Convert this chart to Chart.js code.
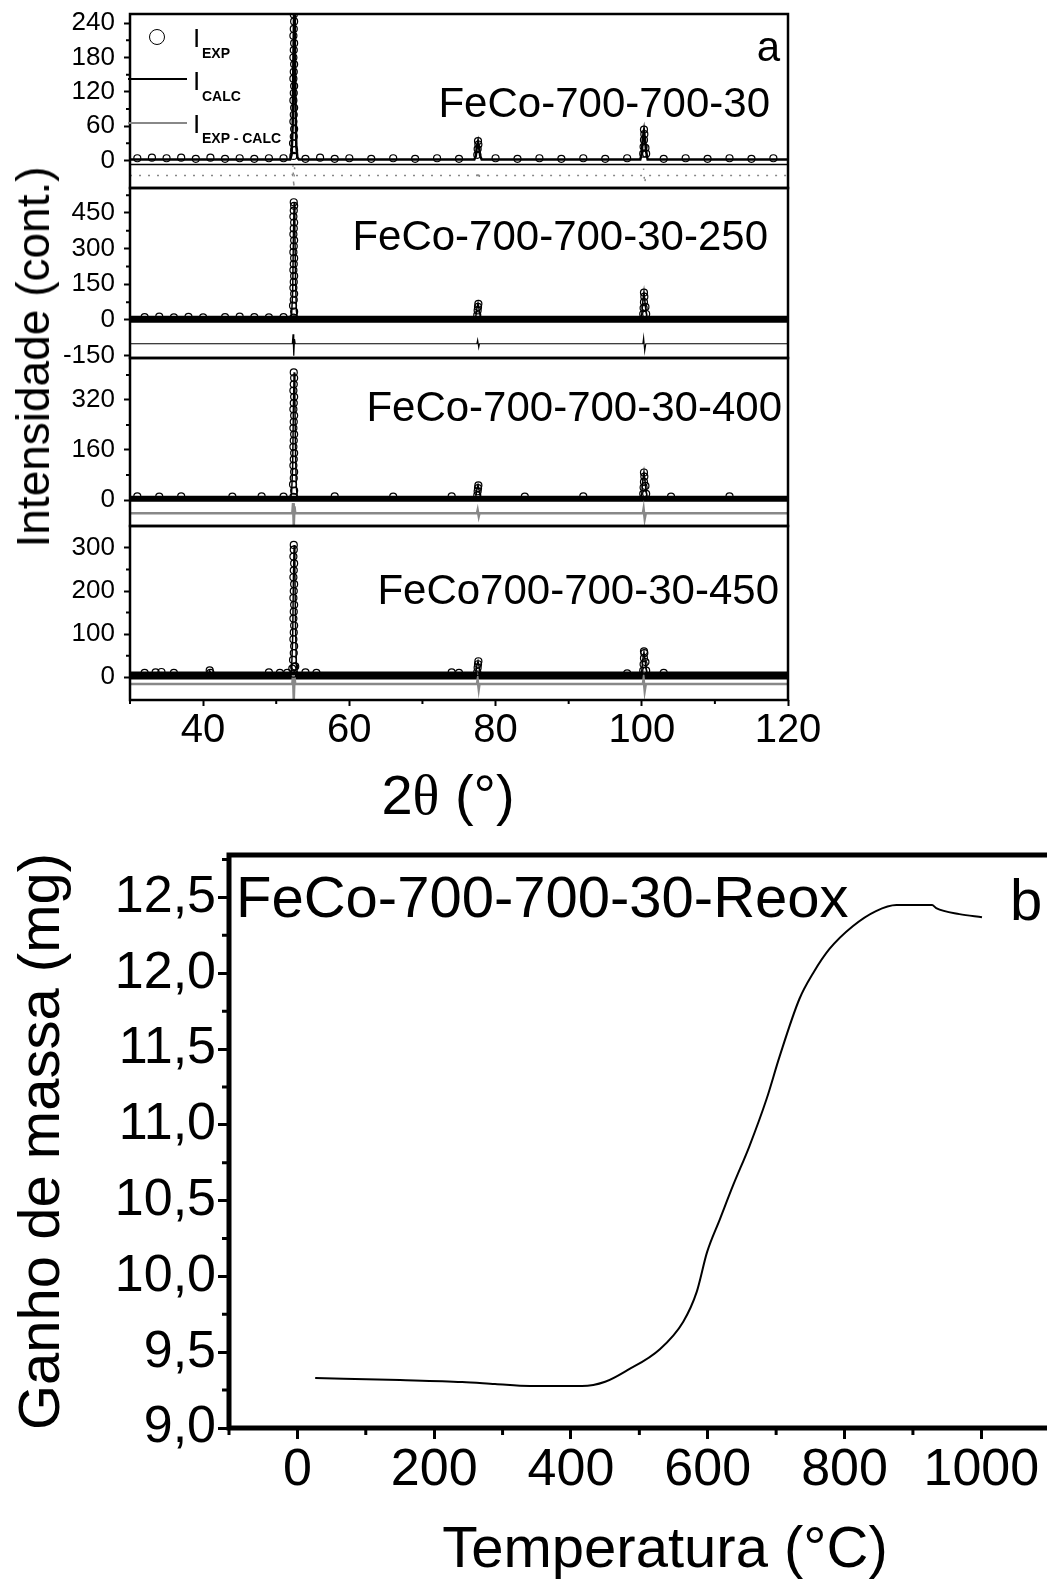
<!DOCTYPE html>
<html>
<head>
<meta charset="utf-8">
<script src="https://cdn.jsdelivr.net/npm/chart.js@4.4.1/dist/chart.umd.min.js"></script>
<style>
  html, body { margin: 0; padding: 0; background: #fff; }
  body { width: 1047px; height: 1592px; position: relative; overflow: hidden;
         font-family: 'Liberation Sans', Arial, sans-serif; color: #000; }
  canvas { position: absolute; left: 0; }
  .txt { position: absolute; white-space: nowrap; line-height: 1; }
  .rt { transform: translate(-100%, -50%); }
  .lt { transform: translate(0, -50%); }
  .sub { position: absolute; white-space: nowrap; line-height: 1; font-size: 14px; font-weight: bold; }
</style>
</head>
<body>
<canvas id="p1" width="840" height="210" style="top:0px"></canvas>
<canvas id="p2" width="840" height="210" style="top:170px"></canvas>
<canvas id="p3" width="840" height="210" style="top:340px"></canvas>
<canvas id="p4" width="840" height="330" style="top:506px"></canvas>
<div style="position:absolute; left:0; top:820px; width:1047px; height:772px; overflow:hidden">
  <canvas id="tga" width="1120" height="772" style="top:0px"></canvas>
</div>

<!-- legenda do painel a -->
<div style="position:absolute; left:149px; top:29px; width:16px; height:16px; border:1.5px solid #000; border-radius:50%; box-sizing:border-box"></div>
<div style="position:absolute; left:128px; top:78px; width:59px; height:1.5px; background:#000"></div>
<div style="position:absolute; left:128px; top:122px; width:59px; height:1.5px; background:#888"></div>
<div class="txt" style="left:193px; top:25px; font-size:26px">I</div>
<div class="sub" style="left:202px; top:46px">EXP</div>
<div class="txt" style="left:193px; top:68px; font-size:26px">I</div>
<div class="sub" style="left:202px; top:89px">CALC</div>
<div class="txt" style="left:193px; top:111px; font-size:26px">I</div>
<div class="sub" style="left:202px; top:131px">EXP - CALC</div>

<div class="txt rt" style="left:780px; top:47px; font-size:42px">a</div>
<div class="txt rt" style="left:770px; top:103px; font-size:42px">FeCo-700-700-30</div>
<div class="txt rt" style="left:768px; top:236px; font-size:42px">FeCo-700-700-30-250</div>
<div class="txt rt" style="left:782px; top:407px; font-size:42px">FeCo-700-700-30-400</div>
<div class="txt rt" style="left:779px; top:590px; font-size:42px">FeCo700-700-30-450</div>

<div class="txt" style="left:33px; top:357px; font-size:46px; transform:translate(-50%,-50%) rotate(-90deg)">Intensidade (cont.)</div>
<div class="txt" style="left:448px; top:795px; font-size:56px; transform:translate(-50%,-50%)">2<span style="font-family:'Liberation Serif', serif">θ</span> (°)</div>

<div class="txt lt" style="left:236px; top:897px; font-size:58px">FeCo-700-700-30-Reox</div>
<div class="txt lt" style="left:1010px; top:900px; font-size:58px">b</div>

<script>
// ---- (a) DRX: 2θ e intensidades ----
const twoTheta = [30, 34.0, 34.3, 34.6, 40.6, 40.9, 41.2, 51.9, 52.1, 52.25, 52.35, 52.45, 52.55, 52.65, 52.75, 52.9, 53.1,
                  55.2, 55.5, 55.8, 77.1, 77.3, 77.45, 77.6, 77.75, 77.9, 78.1, 99.8, 100.0, 100.15, 100.3, 100.45, 100.6, 100.8, 120];

const calc1 = [2, 2, 2, 2, 2, 2, 2, 2, 10, 60, 180, 270, 200, 90, 25, 5, 2, 2, 2, 2, 2, 8, 25, 33, 22, 8, 2, 2, 12, 40, 52, 35, 15, 2, 2];
const calc2 = [3, 3, 3, 3, 3, 3, 3, 3, 20, 120, 350, 495, 380, 160, 40, 8, 3, 3, 3, 3, 3, 15, 50, 70, 45, 15, 3, 3, 25, 80, 118, 70, 30, 3, 3];
const calc3 = [4, 4, 4, 4, 4, 4, 4, 4, 20, 110, 300, 408, 330, 140, 40, 8, 4, 4, 4, 4, 4, 12, 35, 48, 32, 12, 4, 4, 20, 65, 90, 60, 25, 4, 4];
const calc4 = [4, 4, 10, 4, 4, 15, 4, 4, 18, 90, 230, 307, 250, 110, 30, 8, 4, 4, 8, 4, 4, 10, 28, 37, 25, 10, 4, 4, 15, 42, 58, 40, 18, 4, 4];

const exp1 = [
  [52.35,8],[52.45,18],[52.3,30],[52.4,42],[52.45,55],[52.35,68],[52.4,80],[52.45,92],[52.35,105],[52.4,118],[52.45,130],
  [52.35,143],[52.4,155],[52.45,168],[52.35,180],[52.4,193],[52.45,205],[52.35,218],[52.4,230],[52.45,243],[52.4,255],
  [77.5,10],[77.55,20],[77.65,28],[77.6,34],
  [100.2,12],[100.25,24],[100.3,36],[100.35,46],[100.3,54],[100.5,22],[100.6,12],
  [31,4],[33,5],[35,4],[37,5],[39,3],[41,5],[43,3],[45,4],[47,3],[49,4],[51,4],[54,3],[56,5],[58,3],[60,4],[63,3],[66,4],
  [69,3],[72,4],[75,3],[80,4],[83,3],[86,4],[89,3],[92,4],[95,3],[98,4],[103,3],[106,4],[109,3],[112,4],[115,3],[118,4]
];
const exp2 = [
  [52.35,10],[52.45,35],[52.3,60],[52.4,85],[52.45,110],[52.35,135],[52.4,160],[52.45,185],[52.35,210],[52.4,235],[52.45,260],
  [52.35,285],[52.4,310],[52.45,335],[52.35,360],[52.4,385],[52.45,410],[52.35,435],[52.4,460],[52.45,480],[52.4,495],
  [77.5,20],[77.55,40],[77.6,55],[77.65,68],
  [100.2,25],[100.25,50],[100.3,75],[100.35,98],[100.3,115],[100.5,55],[100.6,25],
  [32,12],[34,14],[36,11],[38,13],[40,11],[43,12],[45,14],[47,12],[49,11],[51,12]
];
const exp3 = [
  [52.35,10],[52.45,30],[52.3,50],[52.4,70],[52.45,90],[52.35,110],[52.4,130],[52.45,150],[52.35,170],[52.4,190],[52.45,210],
  [52.35,230],[52.4,250],[52.45,270],[52.35,290],[52.4,310],[52.45,330],[52.35,350],[52.4,370],[52.45,390],[52.4,408],
  [77.5,15],[77.55,28],[77.6,38],[77.65,47],
  [100.2,20],[100.25,40],[100.3,58],[100.35,75],[100.3,88],[100.5,45],[100.6,20],
  [31,12],[34,11],[37,12],[44,11],[48,12],[51,11],[58,12],[66,11],[74,12],[84,11],[92,12],[104,11],[112,12]
];
const exp4 = [
  [52.35,8],[52.45,24],[52.3,40],[52.4,56],[52.45,72],[52.35,88],[52.4,104],[52.45,120],[52.35,136],[52.4,152],[52.45,168],
  [52.35,184],[52.4,200],[52.45,216],[52.35,232],[52.4,248],[52.45,264],[52.35,280],[52.4,296],[52.4,307],[52.2,20],[52.6,25],
  [77.5,12],[77.55,22],[77.6,30],[77.65,37],
  [100.2,15],[100.25,30],[100.3,44],[100.35,56],[100.3,60],[100.5,35],[100.6,15],
  [34.3,12],[40.9,16],[41.0,10],[55.5,10],
  [32,10],[33.5,11],[36,10],[49,11],[50.5,10],[51.5,10],[54,11],[74,11],[75,10],[98,9],[103,10]
];

// faixa densa de pontos experimentais na linha de base
const band2 = [[30, 3], [120, 3]];
const band3 = [[30, 4], [120, 4]];
const band4 = [[30, 4], [120, 4]];

// I(exp) - I(calc), deslocado para baixo de cada padrão
const resTheta = [30, 34.3, 40.9, 52.2, 52.3, 52.4, 52.5, 52.6, 55.5, 77.45, 77.55, 77.7, 77.8, 100.15, 100.25, 100.4, 100.55, 120];
const res1 = [-26, -26, -26, -26, -8, -48, -12, -26, -26, -26, -18, -34, -26, -26, -14, -40, -26, -26];
const res2 = [-100, -100, -100, -100, -60, -150, -80, -100, -100, -100, -85, -115, -100, -100, -75, -130, -100, -100];
const res3 = [-42, -42, -42, -42, -10, -83, -20, -42, -42, -42, -32, -52, -42, -42, -28, -60, -42, -42];
const res4 = [-16, -16, -16, -16, 5, -53, 0, -16, -16, -16, -6, -28, -16, -16, -4, -32, -16, -16];
const zeroLine1 = [[30, -7], [120, -7]];

const xTicks = [40, 60, 80, 100, 120];
const xMinor = [30, 50, 70, 90, 110];
const yTicks1 = [0, 60, 120, 180, 240], yMinor1 = [30, 90, 150, 210];
const yTicks2 = [-150, 0, 150, 300, 450], yMinor2 = [75, 225, 375, 525];
const yTicks3 = [0, 160, 320], yMinor3 = [80, 240, 400];
const yTicks4 = [0, 100, 200, 300], yMinor4 = [50, 150, 250];

// ---- (b) TGA ----
const tempC = [26, 150, 241, 289, 340, 416, 450, 482, 530, 564, 584, 599, 618, 637, 661, 686, 705, 734, 754, 778, 812, 846, 876, 928, 934, 968, 1001];
const massMg = [9.33, 9.316, 9.303, 9.29, 9.277, 9.277, 9.305, 9.38, 9.52, 9.70, 9.90, 10.16, 10.38, 10.60, 10.86, 11.17,
                11.45, 11.83, 12.0, 12.16, 12.31, 12.41, 12.45, 12.45, 12.43, 12.39, 12.37];
const tempTicks = [0, 200, 400, 600, 800, 1000];
const tempMinor = [-100, 100, 300, 500, 700, 900, 1100];
const massTicks = [9.0, 9.5, 10.0, 10.5, 11.0, 11.5, 12.0, 12.5];
const massMinor = [9.25, 9.75, 10.25, 10.75, 11.25, 11.75, 12.25, 12.75];

Chart.defaults.font.family = "'Liberation Sans', Arial, sans-serif";
Chart.defaults.color = '#000';

const framePlugin = {
  id: 'frame',
  afterDatasetsDraw(chart, args, opts) {
    const { ctx, chartArea: a } = chart;
    ctx.save();
    ctx.strokeStyle = '#000';
    ctx.lineWidth = opts.width;
    ctx.strokeRect(a.left, a.top, a.right - a.left, a.bottom - a.top);
    ctx.restore();
  }
};

const minorPlugin = {
  id: 'minor',
  afterDraw(chart, args, opts) {
    const { ctx, chartArea: a, scales } = chart;
    ctx.save();
    ctx.strokeStyle = '#000';
    ctx.lineWidth = opts.width;
    ctx.beginPath();
    (opts.x || []).forEach(v => {
      const px = scales.x.getPixelForValue(v);
      ctx.moveTo(px, a.bottom); ctx.lineTo(px, a.bottom + opts.len);
    });
    (opts.y || []).forEach(v => {
      const py = scales.y.getPixelForValue(v);
      ctx.moveTo(a.left - opts.len, py); ctx.lineTo(a.left, py);
    });
    ctx.stroke();
    ctx.restore();
  }
};

function pts(xs, ys) { return xs.map((x, i) => ({ x, y: ys[i] })); }
function pairs(arr) { return arr.map(([x, y]) => ({ x, y })); }

function panel(id, calc, exp, res, min, max, yTicks, yMinor, st) {
  const datasets = [
    { data: pts(twoTheta, calc), showLine: true, pointRadius: 0, borderColor: '#000', borderWidth: st.calcWidth },
    { data: pairs(exp), showLine: false, pointStyle: 'circle', pointRadius: 3.5, borderWidth: 1.2,
      borderColor: '#000', backgroundColor: 'rgba(0,0,0,0)' },
    { data: pts(resTheta, res), showLine: true, pointRadius: 0, borderColor: st.resColor,
      borderWidth: st.resWidth, borderDash: st.resDash || [] }
  ];
  if (st.band) {
    datasets.push({ data: pairs(st.band), showLine: true, pointRadius: 0, borderColor: '#000', borderWidth: st.bandWidth });
  }
  if (st.extra) {
    datasets.push({ data: pairs(st.extra), showLine: true, pointRadius: 0, borderColor: '#000', borderWidth: 1.5 });
  }
  new Chart(document.getElementById(id), {
    type: 'scatter',
    data: { datasets },
    options: {
      responsive: false, animation: false, devicePixelRatio: 1,
      layout: { padding: { left: 0, right: 52, top: st.top, bottom: st.bottom } },
      plugins: { legend: { display: false }, tooltip: { enabled: false },
                 frame: { width: 2.5 }, minor: { x: st.showX ? xMinor : [], y: yMinor, len: 4, width: 2 } },
      scales: {
        x: {
          type: 'linear', min: 30, max: 120, display: !!st.showX,
          afterBuildTicks: s => { s.ticks = xTicks.map(v => ({ value: v })); },
          afterFit: s => { s.height = st.xHeight || 0; s.paddingLeft = 0; s.paddingRight = 0; },
          grid: { drawOnChartArea: false, tickLength: 6, tickWidth: 2, tickColor: '#000' },
          border: { display: false },
          ticks: { font: { size: 40 }, padding: 1, maxRotation: 0, callback: v => String(v) }
        },
        y: {
          min, max,
          afterBuildTicks: s => { s.ticks = yTicks.map(v => ({ value: v })); },
          afterFit: s => { s.width = 130; s.paddingTop = 0; s.paddingBottom = 0; },
          grid: { drawOnChartArea: false, tickLength: 6, tickWidth: 2, tickColor: '#000' },
          border: { display: false },
          ticks: { font: { size: 26 }, padding: 9, callback: v => String(v) }
        }
      }
    },
    plugins: [framePlugin, minorPlugin]
  });
}

panel('p1', calc1, exp1, res1, -48, 256, yTicks1, yMinor1,
      { calcWidth: 2.5, resColor: '#888', resWidth: 1.5, resDash: [2, 7], top: 14, bottom: 22, extra: zeroLine1 });
panel('p2', calc2, exp2, res2, -160, 555, yTicks2, yMinor2,
      { calcWidth: 1.5, resColor: '#000', resWidth: 1.2, top: 18, bottom: 22, band: band2, bandWidth: 7 });
panel('p3', calc3, exp3, res3, -83, 454, yTicks3, yMinor3,
      { calcWidth: 1.5, resColor: '#888', resWidth: 2.5, top: 18, bottom: 24, band: band3, bandWidth: 6 });
panel('p4', calc4, exp4, res4, -53, 351, yTicks4, yMinor4,
      { calcWidth: 1.5, resColor: '#888', resWidth: 2.5, top: 20, bottom: 0, showX: true, xHeight: 136, band: band4, bandWidth: 8 });

// ---- (b) ----
new Chart(document.getElementById('tga'), {
  type: 'scatter',
  data: { datasets: [{ data: pts(tempC, massMg), showLine: true, pointRadius: 0, borderColor: '#000',
                       borderWidth: 2, cubicInterpolationMode: 'monotone' }] },
  options: {
    responsive: false, animation: false, devicePixelRatio: 1,
    layout: { padding: { left: 0, right: 19, top: 35, bottom: 0 } },
    plugins: { legend: { display: false }, tooltip: { enabled: false },
               frame: { width: 5 }, minor: { x: tempMinor, y: massMinor, len: 7, width: 3 } },
    scales: {
      x: {
        type: 'linear', min: -100, max: 1175,
        afterBuildTicks: s => { s.ticks = tempTicks.map(v => ({ value: v })); },
        afterFit: s => { s.height = 164; s.paddingLeft = 0; s.paddingRight = 0; },
        grid: { drawOnChartArea: false, tickLength: 11, tickWidth: 3, tickColor: '#000' },
        border: { display: false },
        ticks: { font: { size: 52 }, padding: 0, maxRotation: 0, callback: v => String(v) },
        title: { display: true, text: 'Temperatura (°C)', font: { size: 58 }, padding: { top: 0, bottom: 6 } }
      },
      y: {
        min: 9.0, max: 12.78,
        afterBuildTicks: s => { s.ticks = massTicks.map(v => ({ value: v })); },
        afterFit: s => { s.width = 229; s.paddingTop = 0; s.paddingBottom = 0; },
        grid: { drawOnChartArea: false, tickLength: 11, tickWidth: 3, tickColor: '#000' },
        border: { display: false },
        ticks: { font: { size: 52 }, padding: 2, callback: v => v.toFixed(1).replace('.', ',') },
        title: { display: true, text: 'Ganho de massa (mg)', font: { size: 58 }, padding: { top: 8, bottom: 0 } }
      }
    }
  },
  plugins: [framePlugin, minorPlugin]
});
</script>
</body>
</html>
